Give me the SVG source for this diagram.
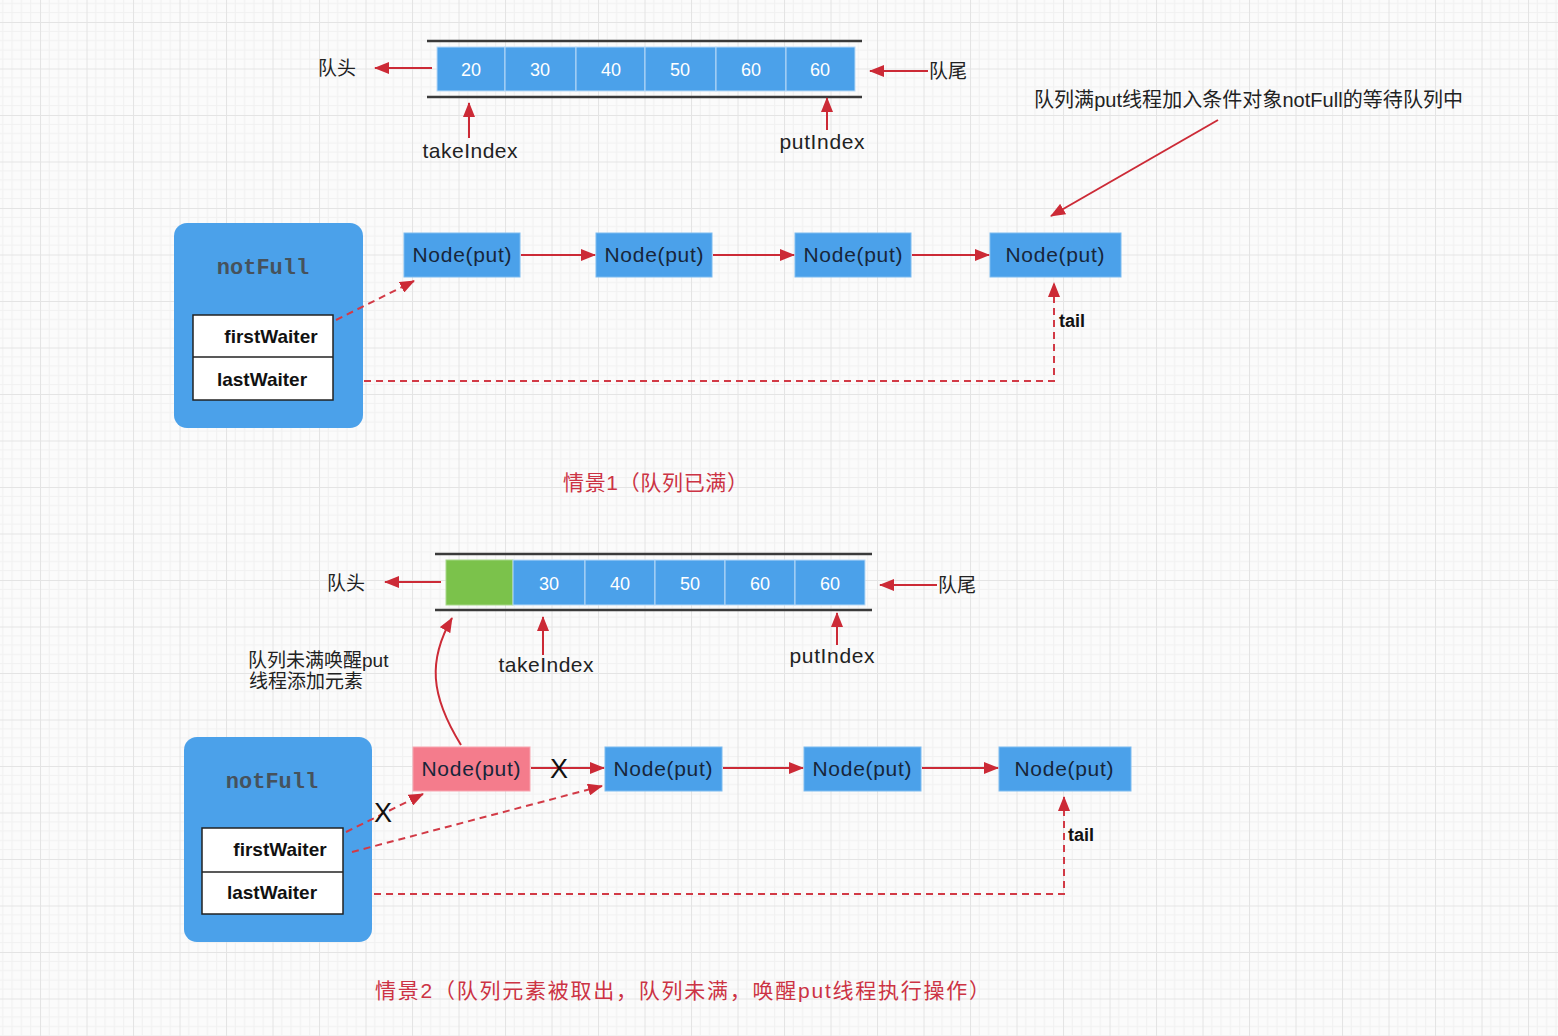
<svg xmlns="http://www.w3.org/2000/svg" width="1558" height="1036" viewBox="0 0 1558 1036">
<style>
.cell{fill:#4ba1ea;stroke:#b9daf7;stroke-width:1}
.num{font-family:"Liberation Sans",Arial,sans-serif;font-size:18px;fill:#ffffff;text-anchor:middle}
.rail{stroke:#3a3a3a;stroke-width:2.5}
.lbl{font-family:"Liberation Sans","Noto Sans CJK SC",sans-serif;font-size:19px;fill:#222}
.idx{font-family:"Liberation Sans",Arial,sans-serif;font-size:21px;fill:#222;text-anchor:middle}
.node{fill:#4ba1ea;stroke:#7dbbf0;stroke-width:1}
.pink{fill:#f47c8c;stroke:#f8a5b0;stroke-width:1}
.ntxt{font-family:"Liberation Sans",Arial,sans-serif;font-size:21px;fill:#17263a;text-anchor:middle}
.box{fill:#4ba1ea}
.nf{font-family:"Liberation Mono","Courier New",monospace;font-size:22px;font-weight:bold;fill:#46525c;text-anchor:middle}
.tbl{fill:#ffffff;stroke:#222;stroke-width:1.5}
.bold{font-family:"Liberation Sans",Arial,sans-serif;font-size:19px;font-weight:bold;fill:#111;text-anchor:middle}
.arr{fill:none;stroke:#cc2a36;stroke-width:2}
.dash{fill:none;stroke:#d23a46;stroke-width:2;stroke-dasharray:7,5}
.cap{font-family:"Liberation Sans","Noto Sans CJK SC",sans-serif;font-size:21px;fill:#cc3344}
.x{font-family:"Liberation Sans",Arial,sans-serif;font-size:27px;fill:#111;text-anchor:middle}
</style>
<defs>
<pattern id="grid" x="40" y="22" width="46.5" height="46.5" patternUnits="userSpaceOnUse">
<rect width="46.5" height="46.5" fill="#fbfbfb"/>
<path d="M9.3 0V46.5M18.6 0V46.5M27.9 0V46.5M37.2 0V46.5M0 9.3H46.5M0 18.6H46.5M0 27.9H46.5M0 37.2H46.5" stroke="#f1f1f1" stroke-width="1" fill="none"/>
<path d="M0.5 0V46.5M0 0.5H46.5" stroke="#e4e4e4" stroke-width="1" fill="none"/>
</pattern>
<marker id="ah" markerUnits="userSpaceOnUse" markerWidth="16" markerHeight="12" refX="14" refY="6" orient="auto">
<path d="M0,0 L15,6 L0,12 z" fill="#cc2a36"/>
</marker>
</defs>
<rect width="1558" height="1036" fill="url(#grid)"/>

<g id="queue1">
<line class="rail" x1="427" y1="41" x2="862" y2="41"/>
<line class="rail" x1="427" y1="97" x2="862" y2="97"/>
<rect class="cell" x="437" y="47" width="68" height="44"/>
<rect class="cell" x="505" y="47" width="71" height="44"/>
<rect class="cell" x="576" y="47" width="69" height="44"/>
<rect class="cell" x="645" y="47" width="71" height="44"/>
<rect class="cell" x="716" y="47" width="70" height="44"/>
<rect class="cell" x="786" y="47" width="69" height="44"/>
<text class="num" x="471" y="76">20</text>
<text class="num" x="540" y="76">30</text>
<text class="num" x="611" y="76">40</text>
<text class="num" x="680" y="76">50</text>
<text class="num" x="751" y="76">60</text>
<text class="num" x="820" y="76">60</text>
</g>
<g id="labels1">
<text class="lbl" x="318" y="75">队头</text>
<text class="lbl" x="929" y="78">队尾</text>
<text class="idx" x="470" y="158" textLength="95">takeIndex</text>
<text class="idx" x="822" y="149" textLength="85">putIndex</text>
<text class="lbl" x="1034" y="107" style="font-size:20px" textLength="429">队列满put线程加入条件对象notFull的等待队列中</text>
</g>

<g id="notFull1">
<rect class="box" x="174" y="223" width="189" height="205" rx="13"/>
<text class="nf" x="263" y="274">notFull</text>
<rect class="tbl" x="193" y="315" width="140" height="85"/>
<line x1="193" y1="357" x2="333" y2="357" stroke="#222" stroke-width="1.5"/>
<text class="bold" x="271" y="343">firstWaiter</text>
<text class="bold" x="262" y="386">lastWaiter</text>
</g>

<g id="nodes1">
<g id="n1a"><rect class="node" x="404" y="233" width="116" height="44"/><text class="ntxt" x="462" y="262" textLength="99">Node(put)</text></g>
<g id="n1b"><rect class="node" x="596" y="233" width="116" height="44"/><text class="ntxt" x="654" y="262" textLength="99">Node(put)</text></g>
<g id="n1c"><rect class="node" x="795" y="233" width="116" height="44"/><text class="ntxt" x="853" y="262" textLength="99">Node(put)</text></g>
<g id="n1d"><rect class="node" x="990" y="233" width="131" height="44"/><text class="ntxt" x="1055" y="262" textLength="99">Node(put)</text></g>
<text class="bold" x="1072" y="327" style="font-size:18px">tail</text>
</g>

<text class="cap" x="563" y="490" textLength="185">情景1（队列已满）</text>

<g id="queue2">
<line class="rail" x1="435" y1="554" x2="872" y2="554"/>
<line class="rail" x1="435" y1="610" x2="872" y2="610"/>
<rect x="446" y="560" width="67" height="45" fill="#7bc24b" stroke="#a8d88a" stroke-width="1"/>
<rect class="cell" x="513" y="560" width="72" height="45"/>
<rect class="cell" x="585" y="560" width="70" height="45"/>
<rect class="cell" x="655" y="560" width="70" height="45"/>
<rect class="cell" x="725" y="560" width="70" height="45"/>
<rect class="cell" x="795" y="560" width="70" height="45"/>
<text class="num" x="549" y="590">30</text>
<text class="num" x="620" y="590">40</text>
<text class="num" x="690" y="590">50</text>
<text class="num" x="760" y="590">60</text>
<text class="num" x="830" y="590">60</text>
</g>
<g id="labels2">
<text class="lbl" x="327" y="590">队头</text>
<text class="lbl" x="938" y="592">队尾</text>
<text class="idx" x="546" y="672" textLength="95">takeIndex</text>
<text class="idx" x="832" y="663" textLength="85">putIndex</text>
<text class="lbl" x="248" y="667" style="font-size:19px">队列未满唤醒put</text>
<text class="lbl" x="249" y="688" style="font-size:19px">线程添加元素</text>
</g>

<g id="notFull2">
<rect class="box" x="184" y="737" width="188" height="205" rx="13"/>
<text class="nf" x="272" y="788">notFull</text>
<rect class="tbl" x="202" y="828" width="141" height="86"/>
<line x1="202" y1="872" x2="343" y2="872" stroke="#222" stroke-width="1.5"/>
<text class="bold" x="280" y="856">firstWaiter</text>
<text class="bold" x="272" y="899">lastWaiter</text>
</g>

<g id="nodes2">
<g id="n2a"><rect class="pink" x="413" y="747" width="117" height="44"/><text class="ntxt" x="471" y="776" textLength="99">Node(put)</text></g>
<g id="n2b"><rect class="node" x="605" y="747" width="117" height="44"/><text class="ntxt" x="663" y="776" textLength="99">Node(put)</text></g>
<g id="n2c"><rect class="node" x="804" y="747" width="117" height="44"/><text class="ntxt" x="862" y="776" textLength="99">Node(put)</text></g>
<g id="n2d"><rect class="node" x="999" y="747" width="132" height="44"/><text class="ntxt" x="1064" y="776" textLength="99">Node(put)</text></g>
<text class="bold" x="1081" y="841" style="font-size:18px">tail</text>
</g>

<text class="cap" x="375" y="998" textLength="615">情景2（队列元素被取出，队列未满，唤醒put线程执行操作）</text>

<g id="connectors">
<line class="arr" x1="432" y1="68" x2="375" y2="68" marker-end="url(#ah)"/>
<line class="arr" x1="928" y1="71" x2="870" y2="71" marker-end="url(#ah)"/>
<line class="arr" x1="469" y1="138" x2="469" y2="103" marker-end="url(#ah)"/>
<line class="arr" x1="827" y1="130" x2="827" y2="98" marker-end="url(#ah)"/>
<line class="arr" x1="1218" y1="120" x2="1051" y2="216" marker-end="url(#ah)"/>
<line class="arr" x1="521" y1="255" x2="595" y2="255" marker-end="url(#ah)"/>
<line class="arr" x1="713" y1="255" x2="794" y2="255" marker-end="url(#ah)"/>
<line class="arr" x1="912" y1="255" x2="989" y2="255" marker-end="url(#ah)"/>
<line class="dash" x1="336" y1="320" x2="414" y2="281" marker-end="url(#ah)"/>
<path class="dash" d="M364,381 H1054 V283" marker-end="url(#ah)"/>
<line class="arr" x1="441" y1="582" x2="385" y2="582" marker-end="url(#ah)"/>
<line class="arr" x1="937" y1="585" x2="880" y2="585" marker-end="url(#ah)"/>
<line class="arr" x1="543" y1="655" x2="543" y2="617" marker-end="url(#ah)"/>
<line class="arr" x1="837" y1="645" x2="837" y2="613" marker-end="url(#ah)"/>
<path class="arr" d="M461,745 C430,695 428,660 452,618" marker-end="url(#ah)"/>
<line class="arr" x1="531" y1="768" x2="604" y2="768" marker-end="url(#ah)"/>
<line class="arr" x1="723" y1="768" x2="803" y2="768" marker-end="url(#ah)"/>
<line class="arr" x1="922" y1="768" x2="998" y2="768" marker-end="url(#ah)"/>
<line class="dash" x1="346" y1="832" x2="423" y2="794" marker-end="url(#ah)"/>
<line class="dash" x1="352" y1="852" x2="602" y2="786" marker-end="url(#ah)"/>
<path class="dash" d="M374,894 H1064 V797" marker-end="url(#ah)"/>
<text class="x" x="559" y="778">X</text>
<text class="x" x="383" y="822">X</text>
</g>
</svg>
